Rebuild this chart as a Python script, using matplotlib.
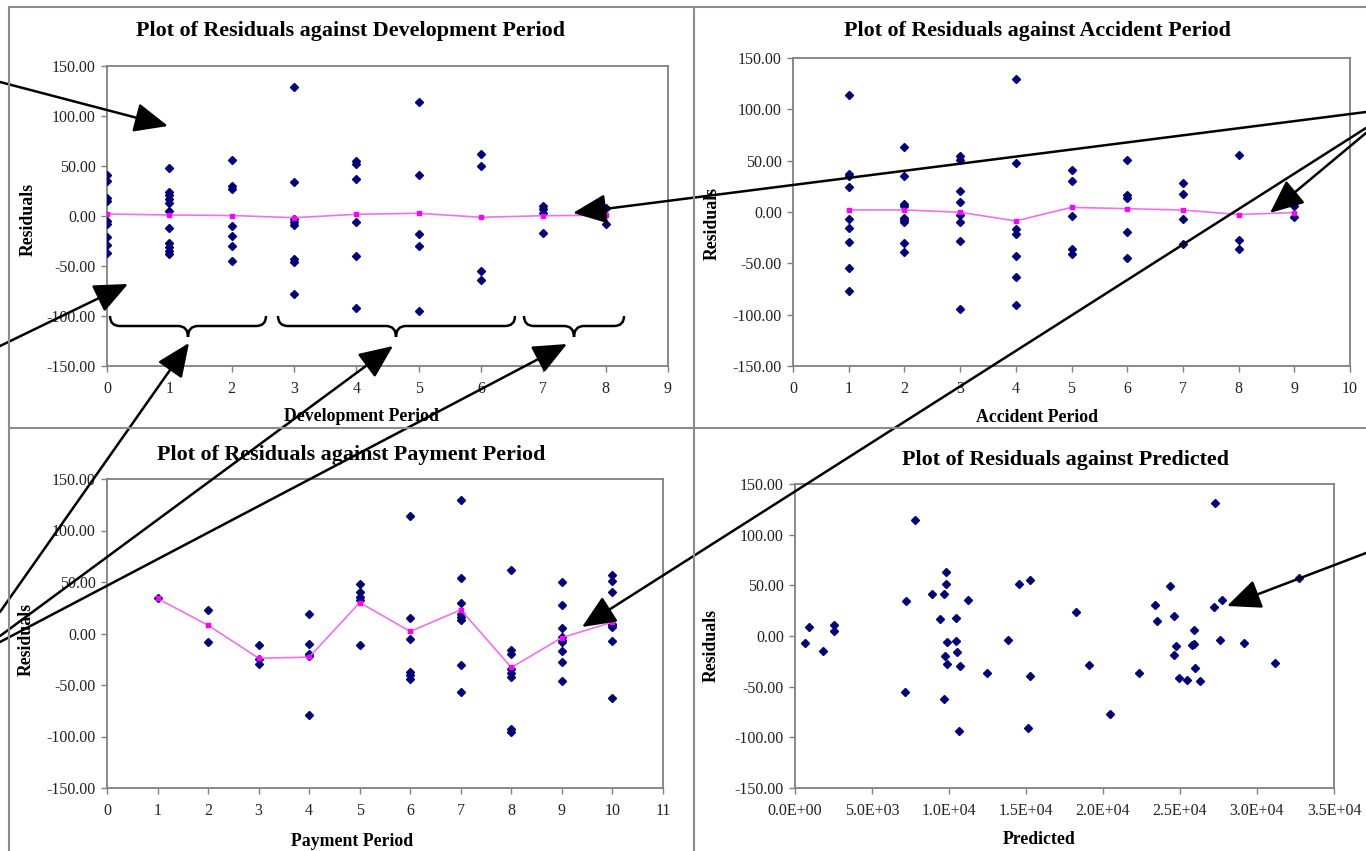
import matplotlib
matplotlib.use("Agg")
import matplotlib.pyplot as plt
from matplotlib.lines import Line2D
from matplotlib.patches import FancyArrowPatch, PathPatch
from matplotlib.path import Path
from matplotlib.ticker import FormatStrFormatter, MultipleLocator

plt.rcParams['font.family'] = ['Liberation Serif', 'DejaVu Serif']
plt.rcParams['axes.unicode_minus'] = False

W, H = 1366, 851

# residuals grouped by development period, with the average line
dev_periods = [0, 1, 2, 3, 4, 5, 6, 7, 8]
dev_resid = [
    [41, 35, 18, 15, -5, -8, -21, -29, -37],
    [48, 24, 21, 17, 13, 5, -12, -27, -31, -35, -38],
    [56, 30, 27, -10, -20, -30, -45],
    [129, 34, -3, -6, -9, -43, -46, -78],
    [55, 52, 37, -6, -40, -92],
    [114, 41, -18, -30, -95],
    [62, 50, -55, -64],
    [10, 7, 3, -17],
    [8, -8],
]
dev_mean = [2, 1, 0.5, -1.7, 1.7, 2.7, -1.3, 0.3, 0.7]

# residuals grouped by accident period
acc_periods = [1, 2, 3, 4, 5, 6, 7, 8, 9]
acc_resid = [
    [114, 37, 35, 24, -7, -16, -29, -55, -77],
    [63, 35, 8, 6, -6, -8, -10, -30, -39],
    [55, 51, 20, 10, -3, -10, -28, -94],
    [130, 48, -17, -21, -43, -63, -91],
    [41, 30, -4, -36, -41],
    [51, 17, 14, -19, -45],
    [28, 18, -7, -31],
    [56, -27, -36],
    [6, -5],
]
acc_mean = [2, 2, -0.3, -8.7, 4.5, 3.2, 1.9, -2.5, -0.5]

# residuals grouped by payment period
pay_periods = [1, 2, 3, 4, 5, 6, 7, 8, 9, 10]
pay_resid = [
    [34],
    [23, -8],
    [-11, -25, -30],
    [19, -10, -20, -22, -79],
    [48, 40, 35, 33, -11],
    [114, 15, -5, -37, -40, -44],
    [130, 54, 30, 19, 16, 13, -31, -57],
    [62, -16, -20, -34, -38, -42, -93, -96],
    [50, 28, 5, -3, -6, -8, -17, -28, -46],
    [57, 51, 40, 9, 6, 8, -7, -63],
]
pay_mean = [34, 8, -24, -23, 30, 2, 23, -33, -4, 11]

# residuals against predicted values
predicted = [650, 900, 1850, 2560, 2560, 7170, 7200, 7820, 8870, 9390,
             9670, 9670, 9730, 9780, 9780, 9840, 9890, 10430, 10430, 10540,
             10650, 10690, 11230, 12450, 13800, 14560, 15100, 15250, 15280, 18250,
             19120, 20430, 22320, 23400, 23510, 24340, 24600, 24620, 24730, 24920,
             25470, 25750, 25900, 25900, 25970, 26290, 27230, 27270, 27600, 27710,
             29160, 31180, 32710]
pred_resid = [-7, 9, -15, 11, 5, -55, 35, 114, 41, 17,
              41, -62, -20, 63, 51, -28, -6, 18, -5, -16,
              -94, -30, 36, -37, -4, 51, -91, 55, -39, 24,
              -29, -77, -37, 31, 15, 49, -19, 20, -10, -41,
              -43, -9, 6, -8, -32, -44, 29, 131, -4, 36,
              -7, -27, 57]

titles = ["Plot of Residuals against Development Period",
          "Plot of Residuals against Accident Period",
          "Plot of Residuals against Payment Period",
          "Plot of Residuals against Predicted"]
xlabels = ["Development Period", "Accident Period", "Payment Period", "Predicted"]

NAVY = '#00007a'
PINK = '#ff00ff'
GRAY = '#808080'


def px(x, y):
    return (x / W, 1 - y / H)


def box(x0, y0, x1, y1):
    return [x0 / W, 1 - y1 / H, (x1 - x0) / W, (y1 - y0) / H]


def style(ax, xmax, xstep, xfmt=None):
    ax.set_ylim(-150, 150)
    ax.set_xlim(0, xmax)
    ax.yaxis.set_major_locator(MultipleLocator(50))
    ax.yaxis.set_major_formatter(FormatStrFormatter('%.2f'))
    ax.xaxis.set_major_locator(MultipleLocator(xstep))
    if xfmt:
        ax.xaxis.set_major_formatter(FormatStrFormatter(xfmt))
    for s in ax.spines.values():
        s.set_color(GRAY)
        s.set_linewidth(1.3)
    ax.tick_params(direction='out', length=4, width=1, color=GRAY,
                   labelsize=11.5, labelcolor='#222222')
    ax.tick_params(axis='y', pad=4)
    ax.tick_params(axis='x', pad=7)


def grouped(ax, periods, resid, mean):
    for p, vals in zip(periods, resid):
        ax.plot([p] * len(vals), vals, linestyle='none', marker='D', ms=4.4,
                color=NAVY, zorder=3)
    ax.plot(periods, mean, color='#f070f0', lw=1.2, marker='s', ms=3.5,
            mfc=PINK, mec=PINK, zorder=4)


fig = plt.figure(figsize=(W / 100, H / 100), dpi=100)

ax1 = fig.add_axes(box(107, 66, 668, 366))
grouped(ax1, dev_periods, dev_resid, dev_mean)
style(ax1, 9, 1)

ax2 = fig.add_axes(box(793, 58, 1350, 366))
grouped(ax2, acc_periods, acc_resid, acc_mean)
style(ax2, 10, 1)

ax3 = fig.add_axes(box(107, 479, 663, 788))
grouped(ax3, pay_periods, pay_resid, pay_mean)
style(ax3, 11, 1)

ax4 = fig.add_axes(box(795, 484, 1334, 788))
ax4.plot(predicted, pred_resid, linestyle='none', marker='D', ms=4.4, color=NAVY)
style(ax4, 35000, 5000, '%.1E')

# titles and axis labels placed on the chart areas
tfont = dict(fontsize=15.8, fontweight='bold', ha='center', va='center')
lfont = dict(fontsize=12.8, fontweight='bold', ha='center', va='center')
title_pos = [(351, 31), (1037, 31), (351, 455), (1066, 460)]
xlab_pos = [(361, 416), (1037, 417), (352, 841), (1039, 840)]
ylab_pos = [(28, 220), (712, 223), (26, 640), (711, 646)]
for t, (x, y) in zip(titles, title_pos):
    fig.text(*px(x, y), t, **tfont)
for t, (x, y) in zip(xlabels, xlab_pos):
    fig.text(*px(x, y), t, **lfont)
for x, y in ylab_pos:
    fig.text(*px(x, y), "Residuals", rotation=90, **lfont)

# panel frame lines
frame = [((9, 7), (1366, 7)), ((9, 7), (9, 851)), ((694, 7), (694, 851)),
         ((9, 428), (1366, 428))]
for a, b in frame:
    (x0, y0), (x1, y1) = px(*a), px(*b)
    fig.add_artist(Line2D([x0, x1], [y0, y1], transform=fig.transFigure,
                          color='#8c8c8c', lw=1.5))


# curly braces under development periods
def brace(x0, x1, xc, ytop=316, ymid=326, ybot=337, r=10):
    pts = [(x0, ytop), (x0, ymid), (x0 + r, ymid), (xc - r, ymid),
           (xc, ymid), (xc, ybot), (xc, ymid), (xc + r, ymid),
           (x1 - r, ymid), (x1, ymid), (x1, ytop)]
    codes = [Path.MOVETO, Path.CURVE3, Path.CURVE3, Path.LINETO,
             Path.CURVE3, Path.CURVE3, Path.CURVE3, Path.CURVE3,
             Path.LINETO, Path.CURVE3, Path.CURVE3]
    path = Path([px(x, y) for x, y in pts], codes)
    fig.add_artist(PathPatch(path, transform=fig.transFigure, fill=False,
                             lw=1.8, ec='black'))


brace(110, 266, 188)
brace(278, 515, 396)
brace(524, 624, 574)

# annotation arrows (tail -> head, in pixels)
arrows = [((0, 82), (168, 126)), ((0, 346), (128, 284)),
          ((1366, 112), (573, 213)), ((1366, 133), (1270, 213)),
          ((1366, 128), (582, 627)), ((0, 612), (189, 343)),
          ((0, 636), (393, 346)), ((0, 642), (567, 344)),
          ((1366, 553), (1227, 606))]
for tail, head in arrows:
    fig.add_artist(FancyArrowPatch(px(*tail), px(*head), transform=fig.transFigure,
                                   arrowstyle='-|>,head_length=1.6,head_width=0.7',
                                   mutation_scale=13, lw=1.8, color='black',
                                   shrinkA=0, shrinkB=0))

fig.savefig('out.png', dpi=100)
